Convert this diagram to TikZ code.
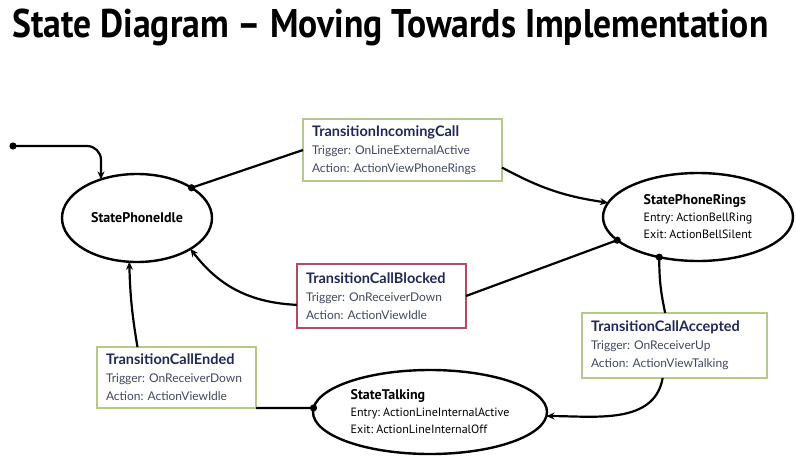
\documentclass[tikz,border=0pt]{standalone}
\usepackage{fontspec}
\setmainfont{PT Sans}
\newfontfamily\headfont[FakeStretch=0.89]{PT Sans Bold}
\newfontfamily\notefont{Lato}
\usetikzlibrary{arrows.meta,shapes.geometric}
\definecolor{boxgreen}{RGB}{181,201,138}
\definecolor{boxred}{RGB}{178,76,92}
\definecolor{labelblue}{RGB}{32,40,88}
\definecolor{notegrey}{RGB}{66,72,96}
\frenchspacing

\begin{document}
\begin{tikzpicture}[x=1pt,y=1pt,line width=2.2pt,>={Stealth[length=8pt,width=7pt]}]
	\tikzstyle{state}=[ellipse,draw,line width=2.4pt,inner sep=0pt,outer sep=0pt,align=left,font=\fontsize{12}{17}\selectfont]
	\tikzstyle{transition}=[rectangle,draw=boxgreen,line width=2.4pt,fill=white,inner xsep=9pt,inner ysep=0pt,outer sep=0pt,align=left,text=notegrey,font=\notefont\fontsize{12}{18}\selectfont]
	\tikzstyle{blocked}=[transition,draw=boxred]
	\newcommand{\ttitle}[1]{{\color{labelblue}\bfseries\fontsize{14.5}{18}\selectfont #1}}

	\useasboundingbox (0,0) rectangle (796,-461);

	\node[anchor=base west,font=\headfont\fontsize{40}{40}\selectfont] (title) at (8,-37) {State Diagram – Moving Towards Implementation};

	\node[state,minimum width=150pt,minimum height=88pt] (idle) at (137,-218) {\textbf{\fontsize{14}{17}\selectfont StatePhoneIdle}};
	\node[state,minimum width=190pt,minimum height=88pt] (rings) at (698,-217) {\textbf{\fontsize{14}{17}\selectfont StatePhoneRings}\\Entry: ActionBellRing\\Exit: ActionBellSilent};
	\node[state,minimum width=234pt,minimum height=84pt] (talking) at (430,-412) {\textbf{\fontsize{14}{17}\selectfont StateTalking}\\Entry: ActionLineInternalActive\\Exit: ActionLineInternalOff};

	\node[transition,text width=181pt,minimum height=62pt] (incoming) at (402.5,-150) {\ttitle{TransitionIncomingCall}\\Trigger:~OnLineExternalActive\\Action:~ActionViewPhoneRings};
	\node[blocked,text width=151pt,minimum height=64pt] (callblocked) at (381.5,-296) {\ttitle{TransitionCallBlocked}\\Trigger:~OnReceiverDown\\Action:~ActionViewIdle};
	\node[transition,text width=167pt,minimum height=65pt] (accepted) at (674.5,-345.5) {\ttitle{TransitionCallAccepted}\\Trigger:~OnReceiverUp\\Action:~ActionViewTalking};
	\node[transition,text width=141pt,minimum height=61pt] (ended) at (176.5,-377.5) {\ttitle{TransitionCallEnded}\\Trigger:~OnReceiverDown\\Action:~ActionViewIdle};

	\coordinate (start) at (13,-146);
	\draw[->,rounded corners=14pt] (start) -| (idle.133);
	\draw (idle.29) -- (incoming.west);
	\draw[->] (incoming.-10) to[bend right=10] (rings.171);
	\draw (rings.196) -- (callblocked.east);
	\draw[->] (callblocked.186) to[bend left=25] (idle.-30);
	\draw (rings.226) to[bend right=6] (accepted.106);
	\draw[->] (accepted.-110) to[out=-100,in=0] (talking.-2);
	\draw (talking.178) -- (ended.south east);
	\draw[->] (ended.142) to[bend left=4] (idle.-100);

	\foreach \p in {start,idle.29,rings.196,rings.226,talking.178}
		\fill (\p) circle (3.6pt);
\end{tikzpicture}
\end{document}
